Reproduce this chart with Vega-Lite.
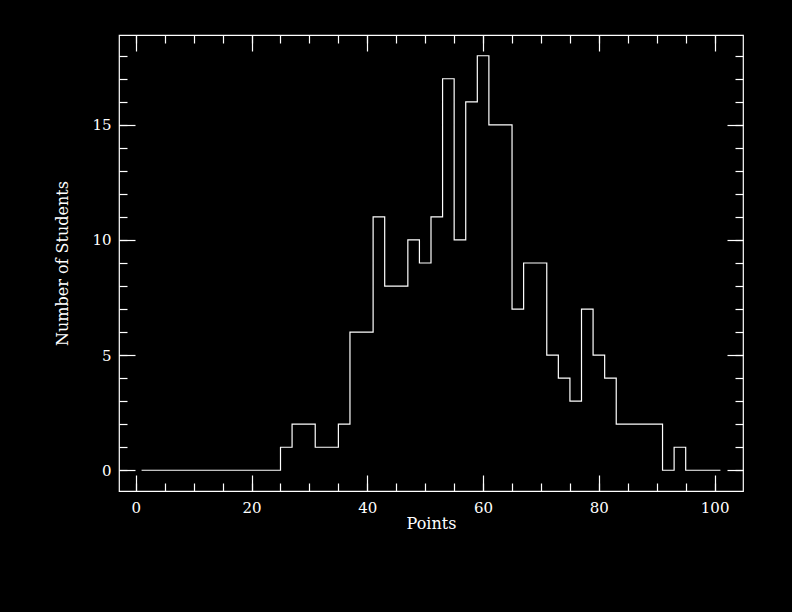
{
  "$schema": "https://vega.github.io/schema/vega-lite/v6.json",
  "background": "black",
  "width": 624,
  "height": 456,
  "autosize": "none",
  "padding": {"left": 119, "top": 35, "right": 49, "bottom": 121},
  "config": {
    "view": {"stroke": "white", "strokeWidth": 1.2},
    "axis": {
      "domain": false,
      "grid": false,
      "tickColor": "white",
      "tickWidth": 1.2,
      "labelColor": "white",
      "titleColor": "white",
      "labelFont": "DejaVu Serif",
      "titleFont": "DejaVu Serif",
      "labelFontSize": 15,
      "titleFontSize": 16,
      "titleFontWeight": "normal",
      "labelFlush": false,
      "labelOverlap": false
    }
  },
  "data": {
    "values": [
      {"points": 1, "students": 0}, {"points": 3, "students": 0}, {"points": 5, "students": 0},
      {"points": 7, "students": 0}, {"points": 9, "students": 0}, {"points": 11, "students": 0},
      {"points": 13, "students": 0}, {"points": 15, "students": 0}, {"points": 17, "students": 0},
      {"points": 19, "students": 0}, {"points": 21, "students": 0}, {"points": 23, "students": 0},
      {"points": 25, "students": 1}, {"points": 27, "students": 2}, {"points": 29, "students": 2},
      {"points": 31, "students": 1}, {"points": 33, "students": 1}, {"points": 35, "students": 2},
      {"points": 37, "students": 6}, {"points": 39, "students": 6}, {"points": 41, "students": 11},
      {"points": 43, "students": 8}, {"points": 45, "students": 8}, {"points": 47, "students": 10},
      {"points": 49, "students": 9}, {"points": 51, "students": 11}, {"points": 53, "students": 17},
      {"points": 55, "students": 10}, {"points": 57, "students": 16}, {"points": 59, "students": 18},
      {"points": 61, "students": 15}, {"points": 63, "students": 15}, {"points": 65, "students": 7},
      {"points": 67, "students": 9}, {"points": 69, "students": 9}, {"points": 71, "students": 5},
      {"points": 73, "students": 4}, {"points": 75, "students": 3}, {"points": 77, "students": 7},
      {"points": 79, "students": 5}, {"points": 81, "students": 4}, {"points": 83, "students": 2},
      {"points": 85, "students": 2}, {"points": 87, "students": 2}, {"points": 89, "students": 2},
      {"points": 91, "students": 0}, {"points": 93, "students": 1}, {"points": 95, "students": 0},
      {"points": 97, "students": 0}, {"points": 99, "students": 0}, {"points": 101, "students": 0}
    ]
  },
  "layer": [
    {
      "mark": {"type": "line", "interpolate": "step-after", "color": "white", "strokeWidth": 1.2},
      "encoding": {
        "x": {
          "field": "points", "type": "quantitative",
          "scale": {"domain": [-2.9, 104.9], "nice": false, "zero": false},
          "axis": {"orient": "bottom", "values": [0, 20, 40, 60, 80, 100], "tickSize": -16, "labelPadding": 25, "title": "Points", "titlePadding": 0}
        },
        "y": {
          "field": "students", "type": "quantitative",
          "scale": {"domain": [-0.9, 18.9], "nice": false, "zero": false},
          "axis": {"orient": "left", "values": [0, 5, 10, 15], "tickSize": -16, "labelPadding": 24, "title": "Number of Students", "titlePadding": 21}
        }
      }
    },
    {
      "mark": {"type": "point", "opacity": 0},
      "encoding": {
        "x": {"field": "points", "type": "quantitative",
          "axis": {"orient": "bottom", "values": [0,5,10,15,20,25,30,35,40,45,50,55,60,65,70,75,80,85,90,95,100], "tickSize": -8, "labels": false, "title": null}},
        "y": {"field": "students", "type": "quantitative",
          "axis": {"orient": "left", "values": [0,1,2,3,4,5,6,7,8,9,10,11,12,13,14,15,16,17,18], "tickSize": -8, "labels": false, "title": null}}
      }
    },
    {
      "mark": {"type": "point", "opacity": 0},
      "encoding": {
        "x": {"field": "points", "type": "quantitative",
          "axis": {"orient": "top", "values": [0, 20, 40, 60, 80, 100], "tickSize": -16, "labels": false, "title": null}},
        "y": {"field": "students", "type": "quantitative",
          "axis": {"orient": "right", "values": [0, 5, 10, 15], "tickSize": -16, "labels": false, "title": null}}
      }
    },
    {
      "mark": {"type": "point", "opacity": 0},
      "encoding": {
        "x": {"field": "points", "type": "quantitative",
          "axis": {"orient": "top", "values": [0,5,10,15,20,25,30,35,40,45,50,55,60,65,70,75,80,85,90,95,100], "tickSize": -8, "labels": false, "title": null}},
        "y": {"field": "students", "type": "quantitative",
          "axis": {"orient": "right", "values": [0,1,2,3,4,5,6,7,8,9,10,11,12,13,14,15,16,17,18], "tickSize": -8, "labels": false, "title": null}}
      }
    }
  ],
  "resolve": {"axis": {"x": "independent", "y": "independent"}}
}
